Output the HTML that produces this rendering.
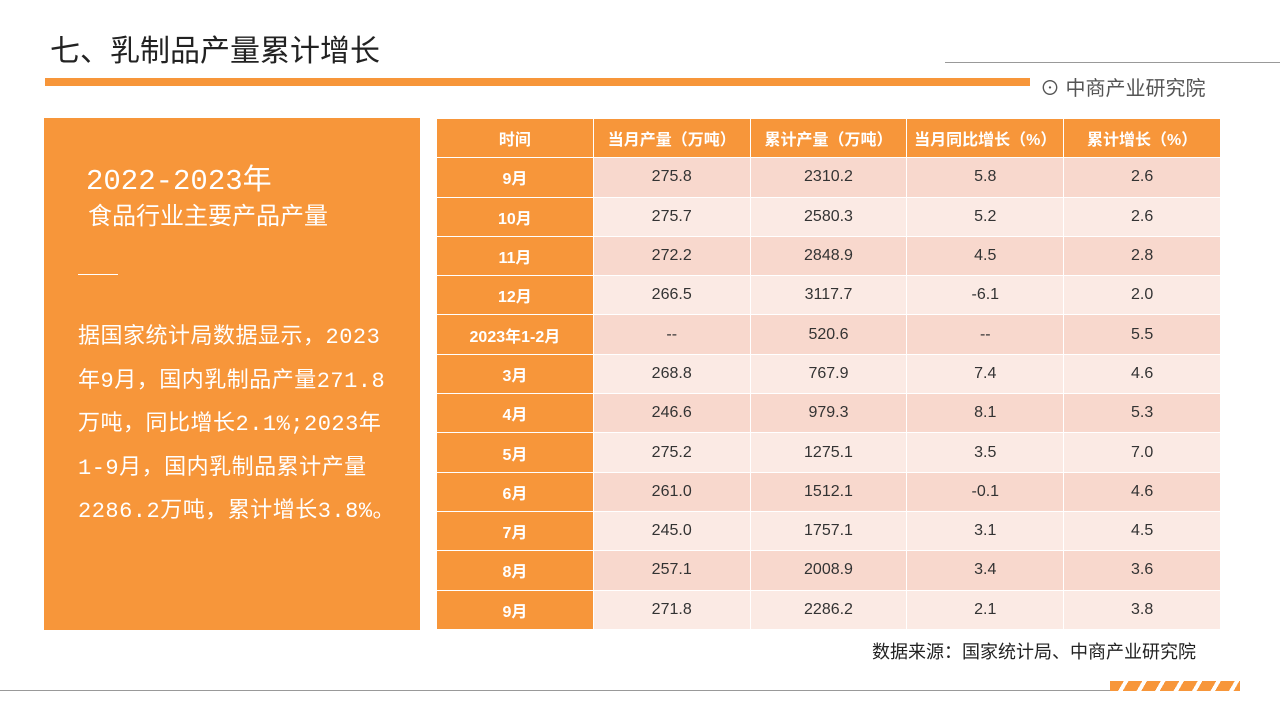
<!DOCTYPE html>
<html><head><meta charset="utf-8"><style>
body{margin:0;width:1280px;height:720px;background:#fff;position:relative;overflow:hidden;font-family:"Liberation Sans","Noto Sans CJK SC",sans-serif}
.abs{position:absolute}
table{border-collapse:collapse;position:absolute;left:436px;top:118px;width:785px;table-layout:fixed}
td,th{height:38.3px;border:1px solid #fff;text-align:center;font-size:16px;color:#333;padding:0}
th{background:#F7963A;color:#fff;font-weight:bold;font-size:16px}
td.m{background:#F7963A;color:#fff;font-weight:bold}
tr.a td{background:#F8D8CD}
tr.b td{background:#FBEAE4}
tr.a td.m,tr.b td.m{background:#F7963A}
.mono{font-family:"Liberation Mono","Noto Sans CJK SC",monospace}
</style></head><body>
<div class="abs" style="left:50px;top:26px;font-size:30px;color:#222">七、乳制品产量累计增长</div>
<div class="abs" style="left:45px;top:78px;width:985px;height:8px;background:#F7963A"></div>
<div class="abs" style="left:945px;top:62px;width:335px;height:1px;background:#999"></div>
<div class="abs" style="left:1040px;top:72px;font-size:20px;color:#555">⊙ 中商产业研究院</div>
<div class="abs" style="left:44px;top:118px;width:376px;height:512px;background:#F7963A;color:#fff">
<div class="mono" style="position:absolute;left:42px;top:38px;font-size:29px">2022-2023年</div>
<div style="position:absolute;left:44px;top:78px;font-size:24px">食品行业主要产品产量</div>
<div style="position:absolute;left:34px;top:156px;width:40px;height:1px;background:#fff"></div>
<div class="mono" style="position:absolute;left:34px;top:198px;width:360px;font-size:22px;line-height:43.5px;white-space:nowrap;letter-spacing:0.5px">据国家统计局数据显示，2023<br>年9月，国内乳制品产量271.8<br>万吨，同比增长2.1%;2023年<br>1-9月，国内乳制品累计产量<br>2286.2万吨，累计增长3.8%。</div>
</div>
<table>
<tr><th>时间</th><th>当月产量（万吨）</th><th>累计产量（万吨）</th><th>当月同比增长（%）</th><th>累计增长（%）</th></tr>
<tr class="a"><td class="m">9月</td><td>275.8</td><td>2310.2</td><td>5.8</td><td>2.6</td></tr>
<tr class="b"><td class="m">10月</td><td>275.7</td><td>2580.3</td><td>5.2</td><td>2.6</td></tr>
<tr class="a"><td class="m">11月</td><td>272.2</td><td>2848.9</td><td>4.5</td><td>2.8</td></tr>
<tr class="b"><td class="m">12月</td><td>266.5</td><td>3117.7</td><td>-6.1</td><td>2.0</td></tr>
<tr class="a"><td class="m">2023年1-2月</td><td>--</td><td>520.6</td><td>--</td><td>5.5</td></tr>
<tr class="b"><td class="m">3月</td><td>268.8</td><td>767.9</td><td>7.4</td><td>4.6</td></tr>
<tr class="a"><td class="m">4月</td><td>246.6</td><td>979.3</td><td>8.1</td><td>5.3</td></tr>
<tr class="b"><td class="m">5月</td><td>275.2</td><td>1275.1</td><td>3.5</td><td>7.0</td></tr>
<tr class="a"><td class="m">6月</td><td>261.0</td><td>1512.1</td><td>-0.1</td><td>4.6</td></tr>
<tr class="b"><td class="m">7月</td><td>245.0</td><td>1757.1</td><td>3.1</td><td>4.5</td></tr>
<tr class="a"><td class="m">8月</td><td>257.1</td><td>2008.9</td><td>3.4</td><td>3.6</td></tr>
<tr class="b"><td class="m">9月</td><td>271.8</td><td>2286.2</td><td>2.1</td><td>3.8</td></tr>
</table>
<div class="abs" style="left:872px;top:638px;font-size:18px;color:#222">数据来源：国家统计局、中商产业研究院</div>
<div class="abs" style="left:0;top:690px;width:1110px;height:1px;background:#999"></div>
<div class="abs" style="left:1110px;top:681px;width:130px;height:10px;background:repeating-linear-gradient(120deg,#F7963A 0 12px,#fff 12px 16px)"></div>
</body></html>
